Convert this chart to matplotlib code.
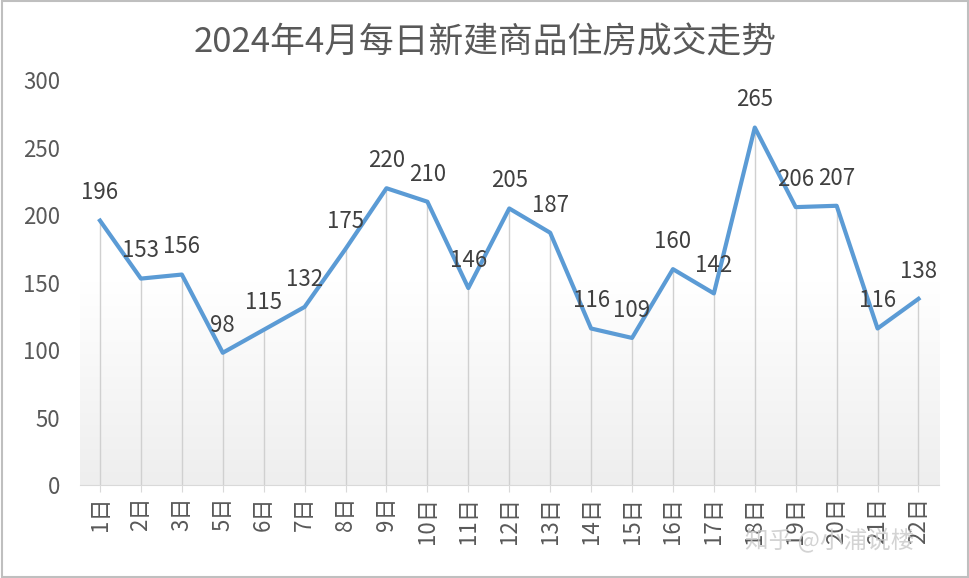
import matplotlib
matplotlib.use("Agg")
import matplotlib.pyplot as plt
import numpy as np
plt.rcParams['font.family'] = ['Noto Sans CJK SC', 'DejaVu Sans']

labels = ["1日","2日","3日","5日","6日","7日","8日","9日","10日","11日","12日","13日","14日","15日","16日","17日","18日","19日","20日","21日","22日"]
values = [196,153,156,98,115,132,175,220,210,146,205,187,116,109,160,142,265,206,207,116,138]

fig = plt.figure(figsize=(9.7,5.78), dpi=100)
fig.patches.append(plt.Rectangle((0.002,0.002),0.996,0.996, transform=fig.transFigure, fill=False, edgecolor='#bfbfbf', lw=1.5))
ax = fig.add_axes([0.082, 0.161, 0.886, 0.70])
x = np.arange(len(values))
ax.set_xlim(-0.5, len(values)-0.5)
ax.set_ylim(0, 300)
grad = np.linspace(0, 1, 256).reshape(-1, 1)
cmap = matplotlib.colors.LinearSegmentedColormap.from_list('g', ['#eeeeee', '#ffffff', '#ffffff'])
ax.imshow(grad, extent=[-0.5, len(values)-0.5, 0, 300], aspect='auto', cmap=cmap, origin='lower', zorder=0)
ax.vlines(x, 0, values, color='#d0d0d0', lw=1, zorder=1)
ax.plot(x, values, color='#5b9bd5', lw=3, zorder=3)
for xi, v in zip(x, values):
    ax.text(xi, v + 12, str(v), ha='center', va='bottom', fontsize=16, color='#404040', zorder=4)
for s in ['top', 'right', 'left']:
    ax.spines[s].set_visible(False)
ax.spines['bottom'].set_color('#d9d9d9')
ax.set_yticks([0,50,100,150,200,250,300])
ax.tick_params(axis='y', length=0, labelsize=16, labelcolor='#595959', pad=14)
ax.set_xticks(x)
ax.set_xticklabels(labels, rotation=90, fontsize=16, color='#595959')
ax.tick_params(axis='x', length=5, color='#d9d9d9')
fig.text(0.5, 0.925, "2024年4月每日新建商品住房成交走势", ha='center', va='center', fontsize=25, color='#595959')
fig.text(0.855, 0.065, "知乎 @小浦说楼", ha='center', va='center', fontsize=17, color='#c8c8c8', alpha=0.8, zorder=10)
fig.savefig("out.png", dpi=100)
